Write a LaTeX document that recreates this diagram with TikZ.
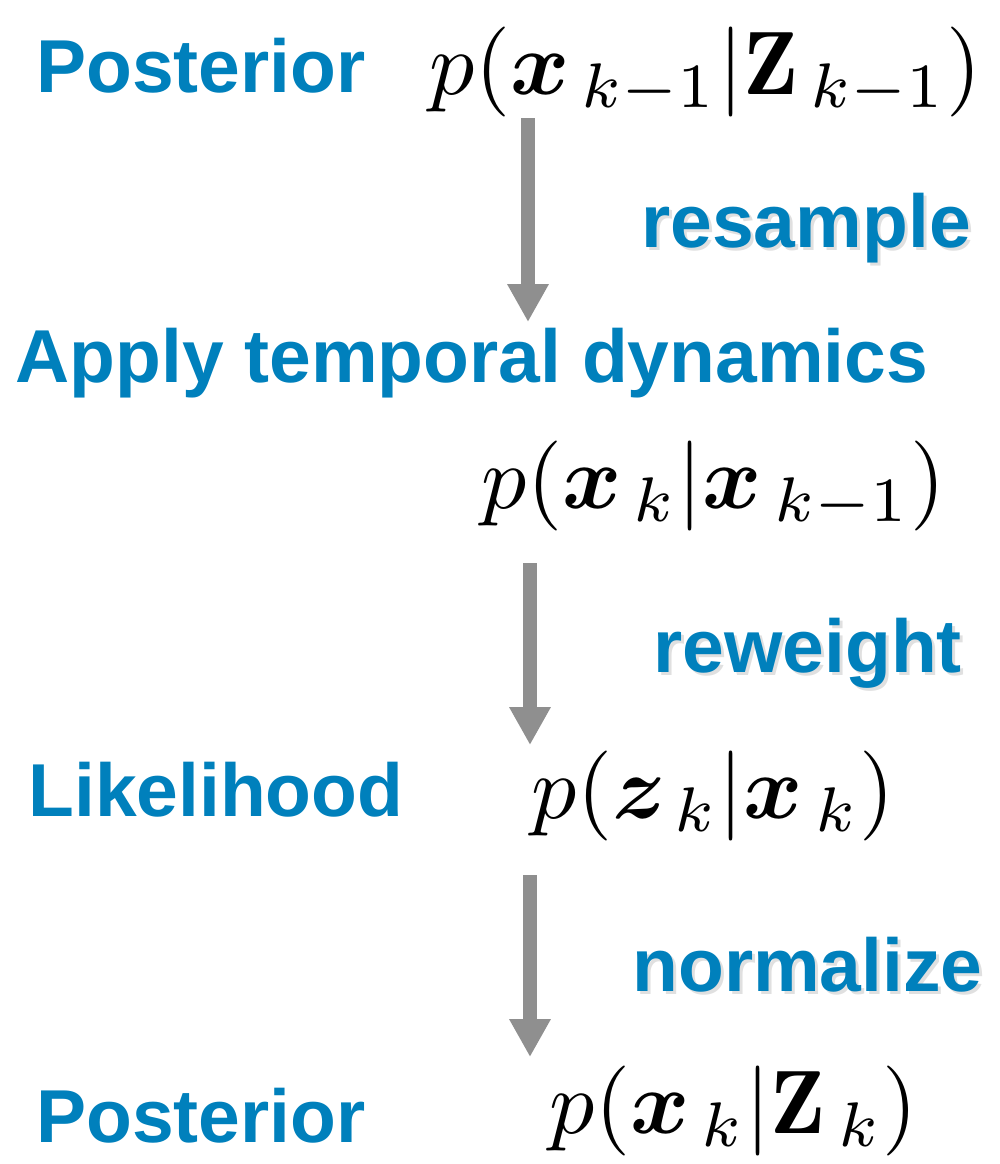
\documentclass[tikz,border=0pt]{standalone}
\usepackage{amsmath}
\usepackage{bm}
\usepackage{fontspec}
\newfontfamily\labfont{Liberation Sans}
\usetikzlibrary{arrows.meta}
\definecolor{labblue}{HTML}{0080BC}
\definecolor{arrgray}{HTML}{8F8F8F}
\tikzset{
  lab/.style={font=\labfont\bfseries\fontsize{37.5}{40}\selectfont, text=labblue, inner sep=0pt, anchor=base west},
  shd/.style={lab, text=black, opacity=0.12},
  mth/.style={font=\normalsize, scale=4.5, inner sep=0pt, anchor=base west},
  flow/.style={draw=arrgray, line width=7pt, -{Triangle[width=19.5pt,length=19pt]}},
}
\begin{document}
\begin{tikzpicture}[x=0.5pt,y=-0.5pt]
\useasboundingbox (0,0) rectangle (1000,1164);
% labels
\node[lab] (post1) at (36,92) {Posterior};
\node[shd] (resshd) at (644,250) {resample};
\node[lab] (res) at (641,247) {resample};
\node[lab] (apply) at (15,382) {Apply temporal dynamics};
\node[shd] (rewshd) at (656,675) {reweight};
\node[lab] (rew) at (653,672) {reweight};
\node[lab] (like) at (28,816) {Likelihood};
\node[shd] (norshd) at (635,994) {normalize};
\node[lab] (nor) at (632,991) {normalize};
\node[lab] (post2) at (36,1142) {Posterior};
% formulas
\node[mth] (f1) at (428,94) {$p(\bm{x}_{\,k-1}|\mathbf{Z}_{\,k-1})$};
\node[mth] (f2) at (480,508) {$p(\bm{x}_{\,k}|\bm{x}_{\,k-1})$};
\node[mth] (f3) at (530,818) {$p(\bm{z}_{\,k}|\bm{x}_{\,k})$};
\node[mth] (f4) at (548,1133) {$p(\bm{x}_{\,k}|\mathbf{Z}_{\,k})$};
% arrows
\coordinate (a1s) at (528,118);
\coordinate (a1e) at (528,322);
\coordinate (a2s) at (530,563);
\coordinate (a2e) at (530,745);
\coordinate (a3s) at (530,875);
\coordinate (a3e) at (530,1057);
\draw[flow] (a1s) -- (a1e);
\draw[flow] (a2s) -- (a2e);
\draw[flow] (a3s) -- (a3e);
\end{tikzpicture}
\end{document}
